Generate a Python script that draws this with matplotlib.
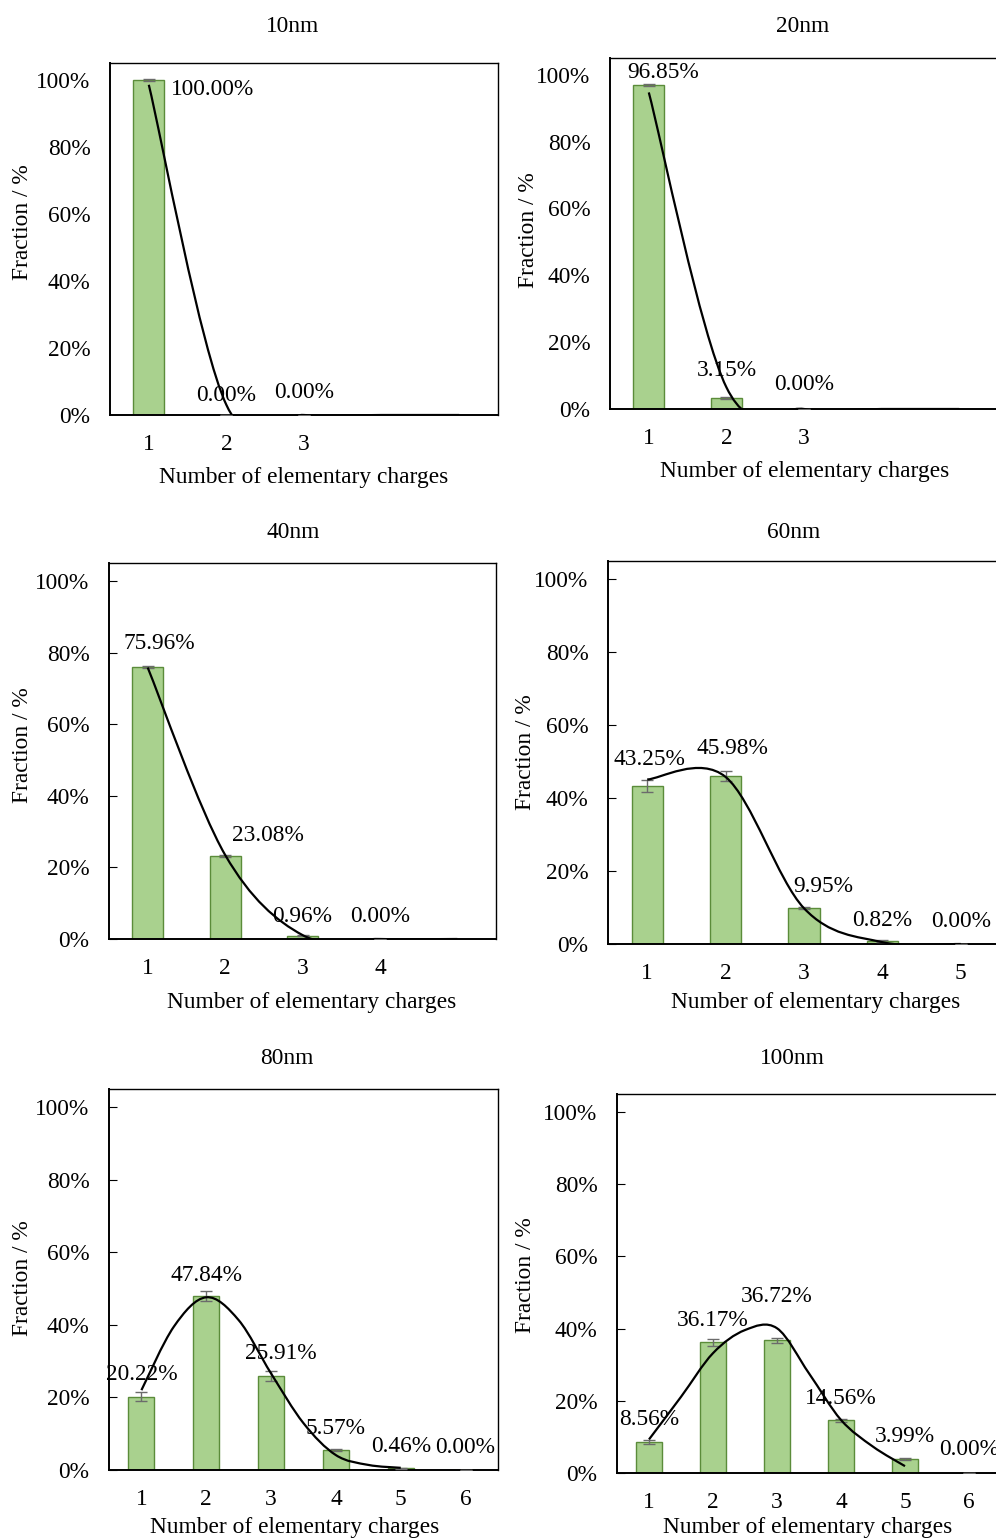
import matplotlib
matplotlib.use("Agg")
import matplotlib.pyplot as plt
from matplotlib.path import Path
from matplotlib.patches import PathPatch

plt.rcParams["font.family"] = ["Liberation Serif", "DejaVu Serif"]
FS = 16.8

# ---- measured charge distributions (fraction in %, with std. error) ----
SIZES = ["10nm", "20nm", "40nm", "60nm", "80nm", "100nm"]

frac_10 = [100.00, 0.00, 0.00]
err_10 = [0.3, 0.0, 0.0]
frac_20 = [96.85, 3.15, 0.00]
err_20 = [0.3, 0.3, 0.0]
frac_40 = [75.96, 23.08, 0.96, 0.00]
err_40 = [0.4, 0.3, 0.1, 0.0]
frac_60 = [43.25, 45.98, 9.95, 0.82, 0.00]
err_60 = [1.7, 1.4, 0.3, 0.2, 0.0]
frac_80 = [20.22, 47.84, 25.91, 5.57, 0.46, 0.00]
err_80 = [1.3, 1.4, 1.4, 0.3, 0.2, 0.0]
frac_100 = [8.56, 36.17, 36.72, 14.56, 3.99, 0.00]
err_100 = [0.5, 0.9, 0.6, 0.3, 0.3, 0.0]

# fitted curves: whole-charge samples for the small sizes, half-charge for the larger ones
fit_x_whole = [1, 2, 3, 4, 5]
fit_x_half = [1.0, 1.5, 2.0, 2.5, 3.0, 3.5, 4.0, 4.5, 5.0]
fit_10 = [98.5, 3.0, 0.0, 0.0, 0.0]
fit_20 = [94.7, 6.5, 0.0, 0.0, 0.0]
fit_40 = [75.8, 23.5, 1.1, 0.0, 0.0]
fit_60 = [45.1, 45.8, 9.8, 0.5, 0.0]
fit_80 = [22.0, 39.5, 47.6, 41.3, 26.6, 12.9, 4.1, 1.4, 0.6]
fit_100 = [9.3, 21.1, 33.2, 39.6, 40.1, 27.6, 14.7, 7.3, 1.9]

FRACS = [frac_10, frac_20, frac_40, frac_60, frac_80, frac_100]
ERRS = [err_10, err_20, err_40, err_60, err_80, err_100]
FITS = [(fit_x_whole, fit_10), (fit_x_whole, fit_20), (fit_x_whole, fit_40),
        (fit_x_whole, fit_60), (fit_x_half, fit_80), (fit_x_half, fit_100)]

# ---- layout (pixels on a 996 x 1540 canvas) ----
W, H = 996, 1540
FRAMES = [(110, 498, 63, 415), (610, 998, 58, 409),
          (109, 496, 563, 939), (608, 1000, 561, 944),
          (109, 498, 1089, 1470), (617, 1001, 1094, 1473)]
SLOTS = [5, 5, 5, 5, 6, 6]
TICK_MARKS = [False, False, True, True, True, True]
TITLE_XY = [(293, 27), (803, 27), (293, 533), (794, 533), (287, 1059), (792, 1059)]
YLAB_XY = [(22, 222), (528, 230), (22, 745), (525, 752), (22, 1278), (525, 1275)]
XLAB_XY = [(304, 477), (805, 471), (312, 1002), (816, 1002), (295, 1528), (808, 1528)]
# label nudges (dx in charges, dy in %) from the default spot above each bar
NUDGES = [[(0.82, -9.2), (0, -0.5), (0, 0.4)],
          [(0.19, -2.4), (0, 2.3), (0, 1.0)],
          [(0.15, 0.4), (0.55, -0.4), (0, -0.8), (0, 0.2)],
          [(0.03, 1.0), (0.09, 1.5), (0.24, -0.5), (0, -0.7), (0, 0.1)],
          [(0, -0.2), (0, -0.3), (0.15, -0.1), (0, -0.2), (0, -0.1), (0, 0.1)],
          [(0, 0.2), (0, 0.0), (0, 5.9), (0, 0.0), (0, 0.0), (0, 0.4)]]
LABEL_GAP = 6.2

BAR_FC = "#A9D18E"; BAR_EC = "#5B8C3A"; ERR_C = "#6B6B6B"


def smooth_path(xs, ys):
    # Catmull-Rom through the fit samples, written as cubic Bezier segments
    pts = list(zip(xs, ys))
    verts = [pts[0]]
    codes = [Path.MOVETO]
    for i in range(len(pts) - 1):
        p0 = pts[max(i - 1, 0)]; p1 = pts[i]; p2 = pts[i + 1]
        p3 = pts[min(i + 2, len(pts) - 1)]
        c1 = (p1[0] + (p2[0] - p0[0]) / 6, p1[1] + (p2[1] - p0[1]) / 6)
        c2 = (p2[0] - (p3[0] - p1[0]) / 6, p2[1] - (p3[1] - p1[1]) / 6)
        verts += [c1, c2, p2]
        codes += [Path.CURVE4] * 3
    return Path(verts, codes)


fig = plt.figure(figsize=(W / 100, H / 100), dpi=100)

for k in range(6):
    l, r, t, b = FRAMES[k]
    ax = fig.add_axes([l / W, 1 - b / H, (r - l) / W, (b - t) / H])
    vals = FRACS[k]
    xs = list(range(1, len(vals) + 1))
    ax.bar(xs, vals, width=0.4, color=BAR_FC, edgecolor=BAR_EC, linewidth=1.0, zorder=2)
    ax.errorbar(xs, vals, yerr=ERRS[k], fmt="none", ecolor=ERR_C, elinewidth=1.0,
                capsize=4, capthick=1.0, zorder=3)
    fx, fy = FITS[k]
    ax.add_patch(PathPatch(smooth_path(fx, fy), fill=False, edgecolor="black",
                           lw=1.6, zorder=5))
    for x, v, (dx, dy) in zip(xs, vals, NUDGES[k]):
        ax.text(x + dx, v + LABEL_GAP + dy, f"{v:.2f}%", ha="center", va="center",
                fontsize=FS, zorder=4)

    ax.set_xlim(0.5, SLOTS[k] + 0.5)
    ax.set_ylim(0, 105)
    ax.set_xticks(xs)
    ax.set_xticklabels([str(x) for x in xs])
    ax.set_yticks(range(0, 101, 20))
    ax.set_yticklabels([f"{y}%" for y in range(0, 101, 20)])
    ax.tick_params(axis="x", length=0, pad=14, labelsize=FS)
    ax.tick_params(axis="y", direction="in", length=5.5 if TICK_MARKS[k] else 0,
                   width=0.8, pad=14, labelsize=FS)
    for s in ("top", "right"):
        ax.spines[s].set_linewidth(1.0)
    for s in ("left", "bottom"):
        ax.spines[s].set_linewidth(1.4)

    tx, ty = TITLE_XY[k]
    fig.text(tx / W, 1 - ty / H, SIZES[k], ha="center", va="center", fontsize=FS)
    yx, yy = YLAB_XY[k]
    fig.text(yx / W, 1 - yy / H, "Fraction / %", rotation=90, ha="center", va="center",
             fontsize=FS)
    xx, xy = XLAB_XY[k]
    fig.text(xx / W, 1 - xy / H, "Number of elementary charges", ha="center", va="center",
             fontsize=FS)

fig.savefig("out.png", dpi=100)
